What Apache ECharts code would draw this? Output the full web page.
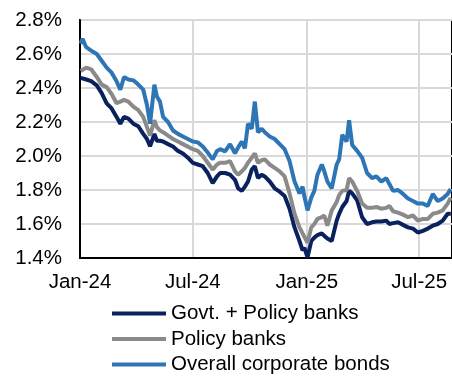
<!DOCTYPE html>
<html>
<head>
<meta charset="utf-8">
<script src="https://cdn.jsdelivr.net/npm/echarts@6/dist/echarts.min.js"></script>
<style>
  html, body { margin: 0; padding: 0; background: #fff; }
  #chart { width: 452px; height: 376px; }
</style>
</head>
<body>
<div id="chart"></div>
<script>
const dates = [
  '2024-01-02', '2024-01-05', '2024-01-11', '2024-01-19', '2024-01-28', '2024-02-05', '2024-02-13', '2024-02-21',
  '2024-02-29', '2024-03-06', '2024-03-12', '2024-03-19', '2024-03-27', '2024-04-04', '2024-04-12', '2024-04-18',
  '2024-04-23', '2024-04-30', '2024-05-04', '2024-05-09', '2024-05-14', '2024-05-22', '2024-05-30', '2024-06-07',
  '2024-06-15', '2024-06-23', '2024-07-01', '2024-07-09', '2024-07-17', '2024-07-25', '2024-08-02', '2024-08-09',
  '2024-08-14', '2024-08-22', '2024-08-30', '2024-09-07', '2024-09-12', '2024-09-18', '2024-09-23', '2024-09-28',
  '2024-10-04', '2024-10-09', '2024-10-14', '2024-10-20', '2024-10-25', '2024-11-02', '2024-11-10', '2024-11-18',
  '2024-11-26', '2024-12-04', '2024-12-12', '2024-12-20', '2024-12-25', '2024-12-28', '2025-01-02', '2025-01-08',
  '2025-01-13', '2025-01-18', '2025-01-25', '2025-01-29', '2025-02-03', '2025-02-10', '2025-02-18', '2025-02-22',
  '2025-02-27', '2025-03-06', '2025-03-10', '2025-03-15', '2025-03-23', '2025-03-31', '2025-04-08', '2025-04-16',
  '2025-04-23', '2025-05-01', '2025-05-09', '2025-05-14', '2025-05-20', '2025-05-28', '2025-06-05', '2025-06-13',
  '2025-06-21', '2025-06-29', '2025-07-07', '2025-07-15', '2025-07-23', '2025-07-31', '2025-08-08', '2025-08-16',
  '2025-08-21'
]

const govtPolicy = [
  2.46, 2.47, 2.45, 2.44, 2.415, 2.37, 2.31, 2.28,
  2.23, 2.19, 2.23, 2.22, 2.19, 2.175, 2.13, 2.10,
  2.057, 2.13, 2.09, 2.09, 2.085, 2.07, 2.056, 2.03,
  2.015, 1.99, 1.96, 1.95, 1.94, 1.90, 1.84, 1.88,
  1.90, 1.90, 1.89, 1.86, 1.81, 1.795, 1.82, 1.85,
  1.92, 1.94, 1.87, 1.89, 1.88, 1.85, 1.81, 1.79,
  1.765, 1.69, 1.58, 1.50, 1.445, 1.46, 1.404, 1.50,
  1.52, 1.535, 1.545, 1.53, 1.515, 1.50, 1.62, 1.66,
  1.70, 1.735, 1.795, 1.78, 1.74, 1.64, 1.60, 1.61,
  1.615, 1.615, 1.62, 1.60, 1.605, 1.61, 1.595, 1.58,
  1.573, 1.55, 1.56, 1.573, 1.59, 1.60, 1.62, 1.66,
  1.66
]

const policyBanks = [
  2.50, 2.51, 2.52, 2.51, 2.465, 2.42, 2.405, 2.365,
  2.31, 2.32, 2.33, 2.32, 2.29, 2.27, 2.23, 2.17,
  2.12, 2.21, 2.17, 2.15, 2.14, 2.12, 2.10, 2.085,
  2.07, 2.055, 2.04, 2.03, 2.00, 1.96, 1.92, 1.95,
  1.96, 1.96, 1.97, 1.91, 1.89, 1.91, 1.93, 1.96,
  1.99, 2.016, 1.96, 1.975, 1.98, 1.95, 1.93, 1.91,
  1.88, 1.78, 1.66, 1.58, 1.545, 1.545, 1.49, 1.58,
  1.60, 1.63, 1.64, 1.65, 1.59, 1.68, 1.73, 1.77,
  1.795, 1.80, 1.87, 1.85, 1.795, 1.72, 1.695, 1.695,
  1.70, 1.69, 1.695, 1.707, 1.675, 1.667, 1.655, 1.64,
  1.65, 1.62, 1.63, 1.63, 1.66, 1.667, 1.68, 1.72,
  1.755
]

const corporate = [
  2.66, 2.69, 2.64, 2.62, 2.60, 2.56, 2.52, 2.49,
  2.44, 2.39, 2.465, 2.45, 2.445, 2.42, 2.39, 2.30,
  2.19, 2.42, 2.35, 2.32, 2.23, 2.20, 2.15, 2.13,
  2.115, 2.10, 2.085, 2.08, 2.056, 2.02, 1.98, 2.03,
  2.04, 2.027, 2.07, 2.016, 2.05, 2.085, 2.045, 2.19,
  2.16, 2.32, 2.14, 2.16, 2.14, 2.115, 2.10, 2.07,
  2.04, 1.97, 1.85, 1.78, 1.82, 1.76, 1.68, 1.755,
  1.795, 1.89, 1.95, 1.91, 1.85, 1.81, 1.95, 1.98,
  2.125, 2.085, 2.21, 2.065, 2.03, 1.99, 1.90, 1.87,
  1.88, 1.85, 1.87, 1.835, 1.795, 1.80, 1.777, 1.75,
  1.735, 1.72, 1.72, 1.707, 1.777, 1.735, 1.75, 1.777,
  1.805
]

const seriesNames = ['Govt. + Policy banks', 'Policy banks', 'Overall corporate bonds']
const seriesColors = ['#0a215f', '#8a8a8a', '#2e75b6']
const tickDates = ['2024-01-01', '2024-07-01', '2025-01-01', '2025-07-01']
const monthNames = ['Jan', 'Feb', 'Mar', 'Apr', 'May', 'Jun', 'Jul', 'Aug', 'Sep', 'Oct', 'Nov', 'Dec']

const toTime = s => {
  const [y, m, d] = s.split('-').map(Number)
  return new Date(y, m - 1, d).getTime()
}
const tickValues = tickDates.map(toTime)
const pairs = vals => dates.map((d, i) => [toTime(d), vals[i]])

const font = '"Liberation Sans", Arial, sans-serif'
const chart = echarts.init(document.getElementById('chart'))

chart.setOption({
  animation: false,
  backgroundColor: '#fff',
  grid: {
    left: 80,
    right: -1,
    top: 20,
    bottom: 118,
    show: true,
    borderColor: '#000',
    borderWidth: 2,
  },
  xAxis: {
    type: 'value',
    min: toTime('2024-01-01'),
    max: toTime('2025-08-23'),
    axisLine: { show: true, lineStyle: { color: '#000', width: 2 } },
    axisTick: { show: false, customValues: tickValues },
    axisLabel: {
      customValues: tickValues,
      margin: 14,
      color: '#000',
      fontSize: 20.5,
      fontFamily: font,
      formatter: v => {
        const d = new Date(v)
        return monthNames[d.getMonth()] + '-' + String(d.getFullYear()).slice(2)
      },
    },
    splitLine: { show: true, lineStyle: { color: '#d9d9d9', width: 2 } },
  },
  yAxis: {
    type: 'value',
    min: 1.4,
    max: 2.8,
    interval: 0.2,
    axisLine: { show: true, lineStyle: { color: '#000', width: 2 } },
    axisTick: { show: false },
    axisLabel: {
      margin: 18,
      color: '#000',
      fontSize: 20.5,
      fontFamily: font,
      formatter: v => v.toFixed(1) + '%',
    },
    splitLine: { show: true, lineStyle: { color: '#d9d9d9', width: 2 } },
  },
  legend: {
    orient: 'vertical',
    left: 112,
    top: 303,
    height: 80,
    padding: 0,
    icon: 'rect',
    itemWidth: 54,
    itemHeight: 4,
    itemGap: 4.5,
    data: seriesNames,
    textStyle: { color: '#000', fontSize: 20.5, fontFamily: font },
  },
  series: [govtPolicy, policyBanks, corporate].map((vals, i) => ({
    name: seriesNames[i],
    type: 'line',
    data: pairs(vals),
    symbol: 'none',
    color: seriesColors[i],
    lineStyle: { width: 4, color: seriesColors[i] },
  })),
})
</script>
</body>
</html>
